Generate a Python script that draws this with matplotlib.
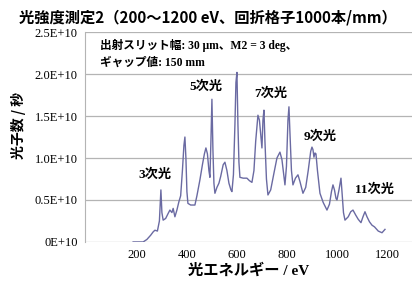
import matplotlib
matplotlib.use('Agg')
import matplotlib.pyplot as plt
from matplotlib.ticker import FuncFormatter

# photon energy (eV) and photon count (x1E10 / s)
energy = [185, 225, 240, 255, 265, 272, 282, 290, 296, 300, 305, 315, 325, 332,
          340, 345, 352, 360, 368, 375, 382, 388, 392, 396, 400, 404, 415, 432,
          440, 452, 462, 470, 476, 482, 488, 492, 496, 500, 504, 508, 512, 520,
          528, 535, 545, 552, 560, 568, 576, 580, 586, 592, 596, 600, 604, 608,
          612, 625, 640, 650, 660, 668, 675, 684, 690, 696, 700, 704, 708, 712,
          718, 724, 735, 748, 760, 772, 780, 788, 792, 798, 804, 808, 812, 818,
          824, 834, 844, 852, 864, 875, 885, 895, 900, 904, 908, 912, 916, 922,
          932, 945, 960, 970, 978, 984, 990, 996, 1000, 1008, 1016, 1020, 1026,
          1032, 1045, 1055, 1064, 1075, 1085, 1096, 1104, 1112, 1120, 1130,
          1140, 1150, 1165, 1180, 1192]
counts = [0.0, 0.0, 0.03, 0.08, 0.12, 0.14, 0.13, 0.25, 0.62, 0.35, 0.26, 0.28,
          0.34, 0.38, 0.35, 0.40, 0.30, 0.38, 0.48, 0.55, 0.85, 1.15, 1.25, 1.0,
          0.6, 0.46, 0.44, 0.44, 0.55, 0.74, 0.92, 1.05, 1.12, 1.05, 0.85, 0.77,
          1.2, 1.7, 1.1, 0.7, 0.58, 0.65, 0.7, 0.78, 0.92, 0.95, 0.85, 0.7, 0.62,
          0.6, 0.8, 1.4, 1.9, 2.02, 1.4, 0.95, 0.77, 0.76, 0.76, 0.73, 0.71,
          0.85, 1.2, 1.51, 1.45, 1.25, 1.12, 1.45, 1.57, 1.2, 0.75, 0.56, 0.62,
          0.82, 1.0, 1.07, 0.98, 0.78, 0.68, 0.9, 1.45, 1.61, 1.3, 0.85, 0.68,
          0.76, 0.80, 0.72, 0.58, 0.65, 0.85, 1.08, 1.13, 1.10, 1.01, 1.06, 1.05,
          0.85, 0.58, 0.47, 0.38, 0.45, 0.6, 0.68, 0.62, 0.52, 0.5, 0.62, 0.76,
          0.6, 0.35, 0.26, 0.30, 0.36, 0.38, 0.32, 0.27, 0.23, 0.30, 0.36, 0.30,
          0.24, 0.20, 0.18, 0.13, 0.11, 0.15]

order_labels = ['3次光', '5次光', '7次光', '9次光', '11次光']
order_x = [272, 476, 736, 932, 1152]
order_y = [0.8, 1.85, 1.77, 1.25, 0.62]

x_ticks = [200, 400, 600, 800, 1000, 1200]
y_ticks = [0, 0.5, 1.0, 1.5, 2.0, 2.5]

MIX = ['Liberation Serif', 'Noto Sans CJK JP']
GOTH = ['Noto Sans CJK JP', 'DejaVu Sans']

fig = plt.figure(figsize=(4.12, 2.84), dpi=100)
ax = fig.add_axes([0.206, 0.148, 0.794, 0.739])

ax.plot(energy, [c * 1e10 for c in counts], color='#6a6aa2', lw=1.0)

ax.set_xlim(-8, 1300)
ax.set_ylim(0, 2.5e10)
ax.set_xticks(x_ticks)
ax.set_yticks([v * 1e10 for v in y_ticks])

def yfmt(v, pos):
    if v == 0:
        return '0E+10'
    return '%.1fE+10' % (v / 1e10)

ax.yaxis.set_major_formatter(FuncFormatter(yfmt))
ax.tick_params(length=0, labelsize=9, pad=5)
for lab in ax.get_xticklabels() + ax.get_yticklabels():
    lab.set_family('Liberation Serif')

ax.grid(axis='y', color='#b4b4b4', lw=0.9)
ax.set_axisbelow(True)
for s in ['top', 'right', 'bottom']:
    ax.spines[s].set_visible(False)
ax.spines['left'].set_color('#b4b4b4')

# labels
fig.text(0.505, 0.94, '光強度測定2（200〜1200 eV、回折格子1000本/mm）',
         ha='center', va='center', fontsize=11, fontweight='bold', family=GOTH)
ax.set_ylabel('光子数 / 秒', fontsize=10, fontweight='bold', family=GOTH)
ax.yaxis.set_label_coords(-0.18, 0.557)
ax.set_xlabel('光エネルギー / eV', fontsize=11, fontweight='bold', family=MIX, labelpad=2)

ax.text(0.045, 0.935, '出射スリット幅: 30 μm、M2 = 3 deg、', transform=ax.transAxes,
        fontsize=8.4, fontweight='bold', family=MIX, va='center')
ax.text(0.045, 0.855, 'ギャップ値: 150 mm', transform=ax.transAxes,
        fontsize=8.4, fontweight='bold', family=MIX, va='center')

for lab, x, y in zip(order_labels, order_x, order_y):
    ax.text(x, y * 1e10, lab, ha='center', va='center', fontsize=9.5,
            fontweight='bold', family=MIX)

fig.savefig('out.png', dpi=100)
